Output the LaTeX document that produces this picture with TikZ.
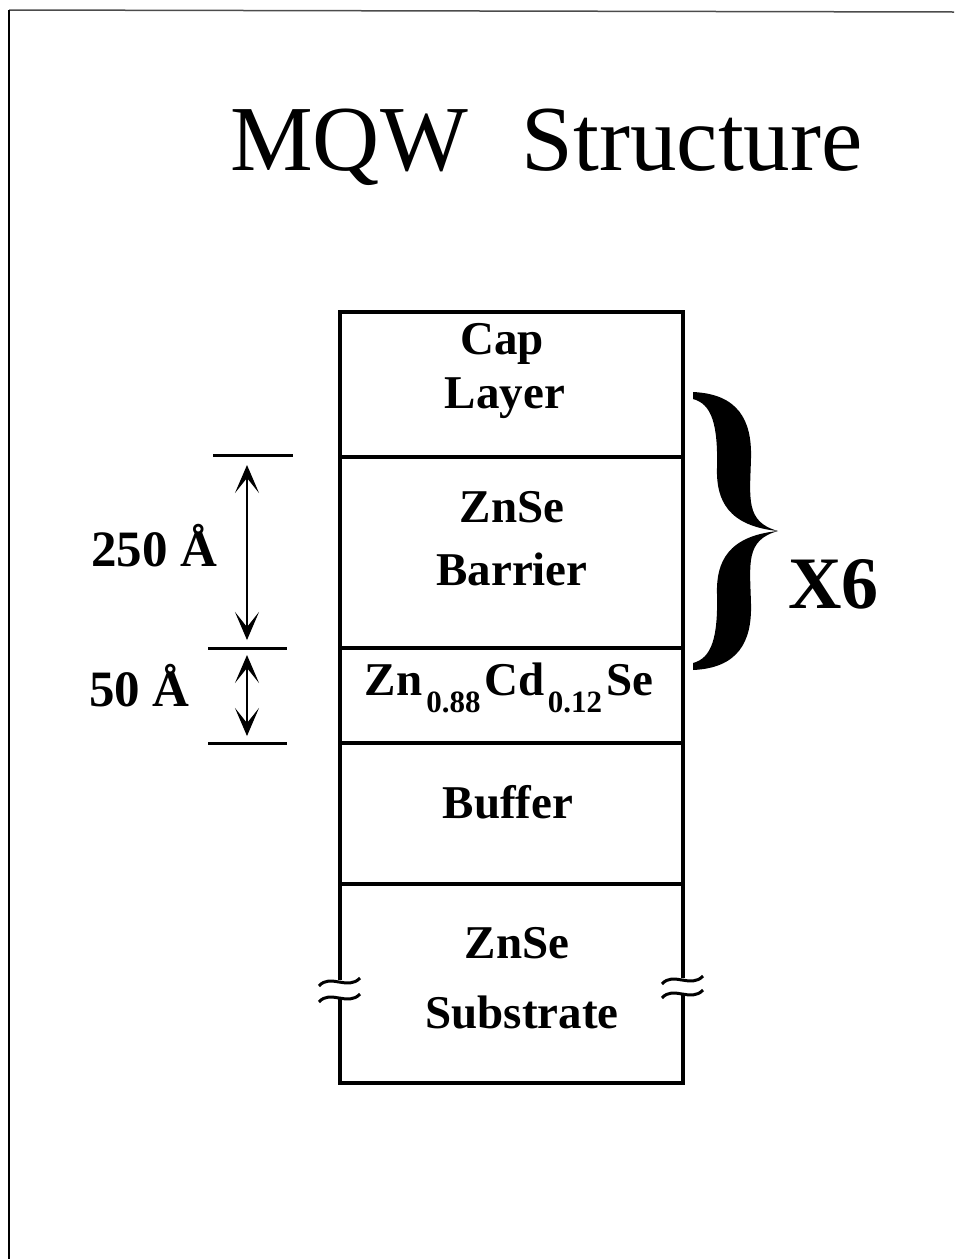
\documentclass[tikz,border=0pt]{standalone}
\usepackage{fontspec}
\setmainfont{Liberation Serif}
\usetikzlibrary{arrows.meta}
\begin{document}
\begin{tikzpicture}[x=1pt,y=-1pt,
  layer/.style={line width=3.5pt},
  lbl/.style={font=\bfseries\fontsize{47}{54}\selectfont, inner sep=0pt, anchor=base},
  dimlbl/.style={font=\bfseries\fontsize{51}{56}\selectfont, inner sep=0pt, anchor=base west},
  tickline/.style={line width=3pt},
  dimarrow/.style={line width=2pt, {Stealth[length=28pt,width=24pt,inset=15pt]}-{Stealth[length=28pt,width=24pt,inset=15pt]}},
  brk/.style={line width=3pt}
]
\useasboundingbox (0,0) rectangle (954,1259);
% page frame
\draw[line width=1.5pt, black!70] (9,10) -- (954,12);
\draw[line width=1.2pt] (9,10) -- (9,1259);

% title
\node[font=\fontsize{93}{110}\selectfont, inner sep=0pt, anchor=base west] (title) at (230,170) {MQW\hspace{54pt}Structure};

% layer stack
\draw[layer] (340,980) -- (340,312) -- (683,312) -- (683,978);
\draw[layer] (340,998) -- (340,1083) -- (683,1083) -- (683,995);
\draw[layer] (340,457) -- (683,457);
\draw[layer] (340,648) -- (683,648);
\draw[layer] (340,743) -- (683,743);
\draw[layer] (340,884) -- (683,884);

% break marks
\foreach \bx/\by in {340/982, 340/998, 683/980, 683/994}{
  \draw[brk] (\bx-21,\by+4) .. controls (\bx-10,\by-9) and (\bx+8,\by+9) .. (\bx+20,\by-4);
}

% layer labels
\node[lbl] (cap) at (502,354) {Cap};
\node[lbl] (layer) at (505,408) {Layer};
\node[lbl] (znse1) at (512,522) {ZnSe};
\node[lbl] (barrier) at (512,585) {Barrier};
\node[lbl] (well) at (509,695) {Zn\kern4pt\raisebox{-17pt}{\fontsize{31}{31}\selectfont 0.88}\kern4pt Cd\kern3pt\raisebox{-17pt}{\fontsize{31}{31}\selectfont 0.12}\kern4pt Se};
\node[lbl] (buffer) at (508,818) {Buffer};
\node[lbl] (znse2) at (517,958) {ZnSe};
\node[lbl] (substrate) at (522,1028) {Substrate};

% dimension ticks
\draw[tickline] (213,455) -- (293,455);
\draw[tickline] (208,648) -- (287,648);
\draw[tickline] (208,743) -- (287,743);
\coordinate (a1) at (247,465);
\coordinate (a2) at (247,640);
\coordinate (b1) at (247,655);
\coordinate (b2) at (247,736);
\draw[dimarrow] (a1) -- (a2);
\draw[dimarrow] (b1) -- (b2);
\node[dimlbl] (d250) at (91,566) {250 Å};
\node[dimlbl] (d50) at (89,706) {50 Å};

% brace
\fill (693,392) .. controls (738,394) and (752,420) .. (751,458)
  .. controls (750,498) and (745,522) .. (778,531)
  .. controls (745,540) and (750,564) .. (751,604)
  .. controls (752,642) and (738,668) .. (693,670)
  -- (693,663) .. controls (712,658) and (718,637) .. (717,594)
  .. controls (716,562) and (728,536) .. (778,531)
  .. controls (728,526) and (716,500) .. (717,468)
  .. controls (718,425) and (712,404) .. (693,399) -- cycle;
\node[font=\bfseries\fontsize{74}{80}\selectfont, inner sep=0pt, anchor=base west] (x6) at (788,608) {X6};
\end{tikzpicture}
\end{document}
